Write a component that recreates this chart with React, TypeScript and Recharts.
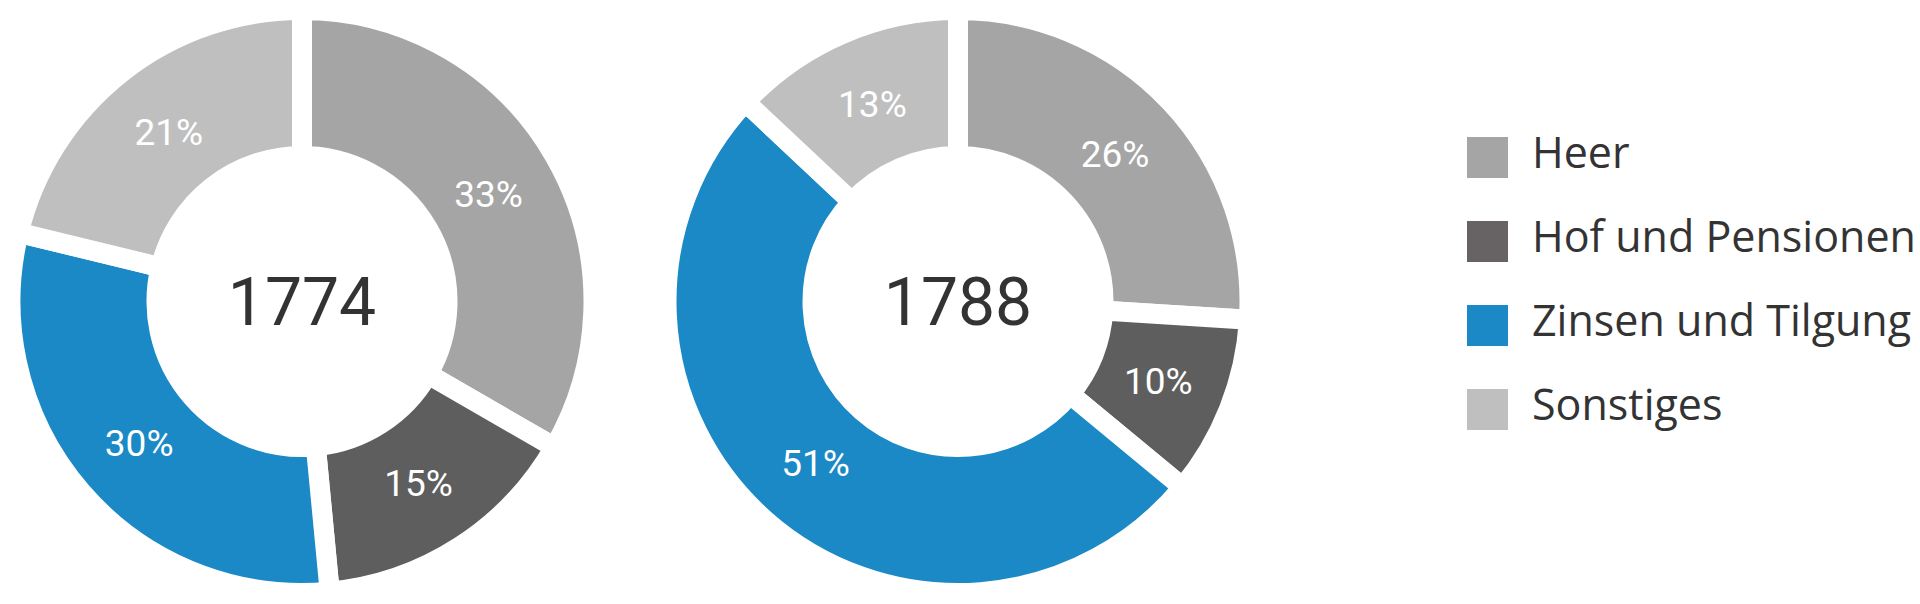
import React from 'react';
import { PieChart, Pie, Legend } from 'recharts';

const categories = ['Heer', 'Hof und Pensionen', 'Zinsen und Tilgung', 'Sonstiges'];
const values1774 = [33, 15, 30, 21];
const values1788 = [26, 10, 51, 13];
const years = ['1774', '1788'];
const sliceColors = ['#a5a5a5', '#5e5e5e', '#1a89c6', '#bfbfbf'];
const legendColors = ['#a5a5a5', '#676364', '#1a89c6', '#bfbfbf'];

const build = (vals: number[]) =>
  categories.map((name, i) => ({ name, value: vals[i], fill: sliceColors[i] }));

const data1774 = build(values1774);
const data1788 = build(values1788);

const RADIAN = Math.PI / 180;

const makeLabel = (year: string) => (props: any) => {
  const { cx, cy, midAngle, innerRadius, outerRadius, value, index } = props;
  const r = (innerRadius + outerRadius) / 2 - 3;
  const x = cx + r * Math.cos(-midAngle * RADIAN);
  const y = cy + r * Math.sin(-midAngle * RADIAN);
  const fs = 37;
  const cfs = 66;
  return (
    <g>
      <text
        x={x}
        y={y + fs * 0.355}
        fill="#ffffff"
        textAnchor="middle"
        fontFamily="Roboto, sans-serif"
        fontWeight={400}
        fontSize={fs}
      >
        {value}%
      </text>
      {index === 0 && (
        <text
          x={cx}
          y={cy + cfs * 0.355}
          fill="#333333"
          textAnchor="middle"
          fontFamily="Roboto, sans-serif"
          fontWeight={400}
          fontSize={cfs}
        >
          {year}
        </text>
      )}
    </g>
  );
};

const renderLegend = () => (
  <svg width={460} height={340} style={{ display: 'block', overflow: 'visible' }}>
    {categories.map((c, i) => (
      <g key={c}>
        <rect x={0} y={i * 84} width={41} height={41} fill={legendColors[i]} />
        <text
          x={65}
          y={i * 84 + 30.5}
          fill="#333333"
          fontFamily="'Open Sans', sans-serif"
          fontSize={43}
        >
          {c}
        </text>
      </g>
    ))}
  </svg>
);

export default function App() {
  return (
    <div style={{ position: 'absolute', left: 0, top: 0, width: 1920, height: 604, background: '#fff' }}>
      <PieChart width={1920} height={604} margin={{ top: 0, right: 0, bottom: 0, left: 0 }}>
        <Pie
          data={data1774}
          dataKey="value"
          nameKey="name"
          cx={302}
          cy={301.5}
          innerRadius={145.5}
          outerRadius={291.5}
          startAngle={90}
          endAngle={-270}
          stroke="#ffffff"
          strokeWidth={20}
          label={makeLabel(years[0])}
          labelLine={false}
          isAnimationActive={false}
        />
        <Pie
          data={data1788}
          dataKey="value"
          nameKey="name"
          cx={958}
          cy={301.5}
          innerRadius={145.5}
          outerRadius={291.5}
          startAngle={90}
          endAngle={-270}
          stroke="#ffffff"
          strokeWidth={20}
          label={makeLabel(years[1])}
          labelLine={false}
          isAnimationActive={false}
        />
        <Legend
          content={renderLegend}
          wrapperStyle={{ position: 'absolute', left: 1467, top: 137, width: 460, height: 340 }}
        />
      </PieChart>
    </div>
  );
}
